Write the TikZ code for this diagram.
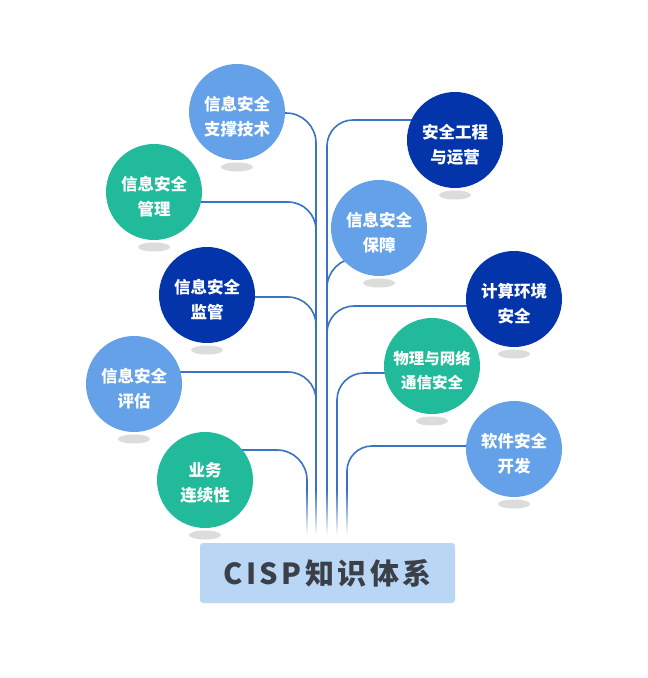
\documentclass[tikz,border=0pt]{standalone}
\usepackage{fontspec}
\setmainfont{Noto Sans CJK SC}
\usetikzlibrary{calc, backgrounds}

\definecolor{lblue}{HTML}{64A1E8}
\definecolor{dblue}{HTML}{0334A9}
\definecolor{teal}{HTML}{21BB9B}
\definecolor{linec}{HTML}{3A72C4}
\definecolor{shadowc}{HTML}{DCDCDC}
\definecolor{boxc}{HTML}{B9D6F5}
\definecolor{boxtext}{HTML}{3B3F47}

\tikzset{
  bubble/.style={circle, minimum size=96pt, inner sep=0pt},
  btext/.style={text=white, align=center, font=\bfseries\fontsize{16.5}{25}\selectfont},
  conn/.style={draw=linec, line width=1.6pt},
  rootbox/.style={fill=boxc, rounded corners=3pt, minimum width=255pt, minimum height=60pt,
    text=boxtext, font=\bfseries\fontsize{29}{30}\selectfont\addfontfeatures{LetterSpace=12}},
}

\begin{document}
\begin{tikzpicture}[x=1pt, y=-1pt]
\useasboundingbox (0,0) rectangle (648,678);

% ends of the trunk lines
\coordinate (ta) at (307,490);
\coordinate (tl) at (316,490);
\coordinate (tr) at (327,490);
\coordinate (tb) at (337,490);
\coordinate (tc) at (347,490);

% bubbles, left side
\node[bubble, fill=lblue] (zhicheng) at (237,112) {};
\node[bubble, fill=teal]  (guanli)   at (154,192) {};
\node[bubble, fill=dblue] (jianguan) at (207,295) {};
\node[bubble, fill=lblue] (pinggu)   at (134,384) {};
\node[bubble, fill=teal]  (yewu)     at (205,480) {};
% bubbles, right side
\node[bubble, fill=dblue] (gongcheng) at (455,140) {};
\node[bubble, fill=lblue] (baozhang)  at (379,228) {};
\node[bubble, fill=dblue] (jisuan)    at (514,299) {};
\node[bubble, fill=teal]  (wuli)      at (432,366) {};
\node[bubble, fill=lblue] (ruanjian)  at (514,449) {};

% texts
\node[btext] (zhicheng-t)  at ($(zhicheng)+(0,5)$)  {信息安全\\支撑技术};
\node[btext] (guanli-t)    at ($(guanli)+(0,5)$)    {信息安全\\管理};
\node[btext] (jianguan-t)  at ($(jianguan)+(0,5)$)  {信息安全\\监管};
\node[btext] (pinggu-t)    at ($(pinggu)+(0,5)$)    {信息安全\\评估};
\node[btext] (yewu-t)      at ($(yewu)+(0,3)$)      {业务\\连续性};
\node[btext] (gongcheng-t) at ($(gongcheng)+(0,5)$) {安全工程\\与运营};
\node[btext] (baozhang-t)  at ($(baozhang)+(0,5)$)  {信息安全\\保障};
\node[btext] (jisuan-t)    at ($(jisuan)+(0,5)$)    {计算环境\\安全};
\node[btext, font=\bfseries\fontsize{15.5}{24}\selectfont] (wuli-t) at ($(wuli)+(0,5)$) {物理与网络\\通信安全};
\node[btext] (ruanjian-t)  at ($(ruanjian)+(0,5)$)  {软件安全\\开发};

% root
\node[rootbox] (cisp) at (327.5,573) {CISP知识体系};

\begin{scope}[on background layer]
\fill[white] (0,0) rectangle (648,678);
% shadows under the bubbles
\foreach \n in {zhicheng,guanli,jianguan,pinggu,yewu,gongcheng,baozhang,jisuan,wuli,ruanjian}
  \fill[shadowc] ($(\n)+(0,55)$) ellipse (16 and 4.5);
% branches
\draw[conn, rounded corners=30pt] ($(zhicheng)+(0,1)$) -| (tl);
\draw[conn, rounded corners=28pt] ($(guanli)+(0,10)$) -| (tl);
\draw[conn, rounded corners=28pt] ($(jianguan)+(0,2)$) -| (tl);
\draw[conn, rounded corners=28pt] ($(pinggu)+(0,-12)$) -| (tl);
\draw[conn, rounded corners=30pt] ($(yewu)+(0,-30)$) -| (ta);
\draw[conn, rounded corners=26pt] ($(gongcheng)+(0,-20)$) -| (tr);
\draw[conn, rounded corners=30pt] ($(baozhang)+(0,30)$) -| (tr);
\draw[conn, rounded corners=27pt] ($(jisuan)+(0,7)$) -| (tr);
\draw[conn, rounded corners=27pt] ($(wuli)+(0,7)$) -| (tb);
\draw[conn, rounded corners=25pt] ($(ruanjian)+(0,-3)$) -| (tc);
% fading ends
\foreach \t in {ta,tl,tr,tb,tc}
  \shade[top color=linec, bottom color=white] ($(\t)+(-0.8,-0.5)$) rectangle ($(\t)+(0.8,45)$);
\end{scope}
\end{tikzpicture}
\end{document}
